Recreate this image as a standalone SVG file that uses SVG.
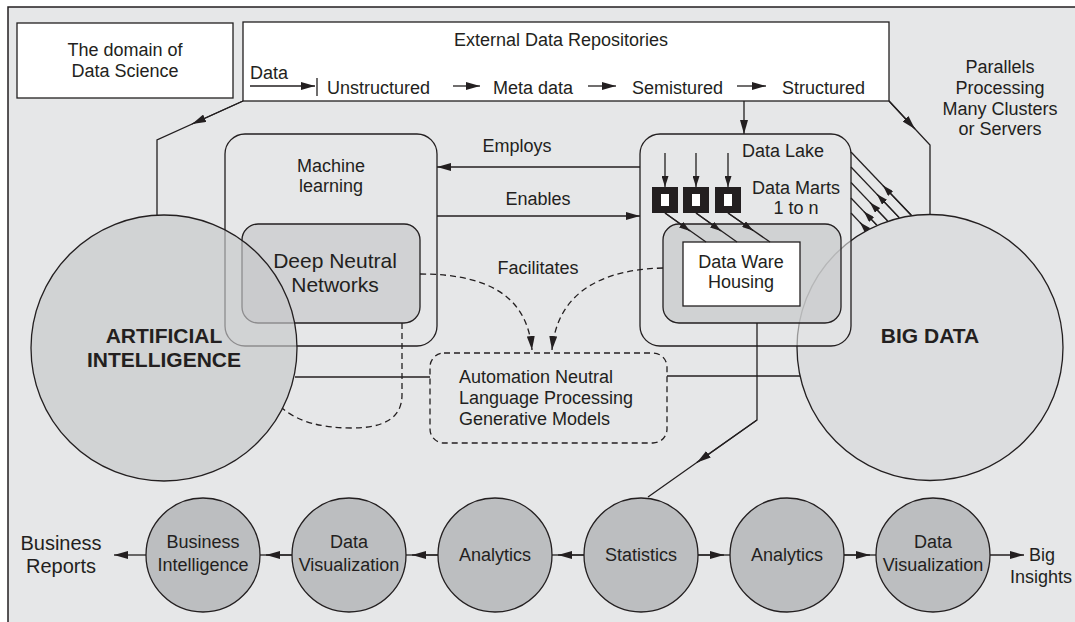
<svg xmlns="http://www.w3.org/2000/svg" width="1075" height="622" viewBox="0 0 1075 622">
  <style>
    text { font-family: "Liberation Sans", Arial, Helvetica, sans-serif; fill: #231f20; font-size: 18px; }
    .c { text-anchor: middle; }
    .big { font-weight: bold; font-size: 21px; }
    .dnn { font-size: 21px; }
    .br { font-size: 20px; }
    .ln { fill: none; stroke: #231f20; stroke-width: 1.3; }
    .dash { stroke-dasharray: 6 4; }
    .box { fill: #ffffff; stroke: #231f20; stroke-width: 1.3; }
    .step { fill: #bcbec0; stroke: #231f20; stroke-width: 1.3; }
  </style>
  <defs>
    <marker id="arr" markerUnits="userSpaceOnUse" markerWidth="14" markerHeight="8" refX="14" refY="4" orient="auto">
      <path d="M0,0 L14,4 L0,8 Z" fill="#231f20"/>
    </marker>
    <marker id="arrS" markerUnits="userSpaceOnUse" markerWidth="11" markerHeight="7" refX="11" refY="3.5" orient="auto">
      <path d="M0,0 L11,3.5 L0,7 Z" fill="#231f20"/>
    </marker>
  </defs>

  <!-- page and frame -->
  <rect x="0" y="0" width="1075" height="622" fill="#ffffff"/>
  <rect id="frame" x="8" y="7" width="1090" height="640" fill="#e6e7e8" stroke="#231f20" stroke-width="1.5"/>

  <!-- Big Data sphere (sits under the data lake panel) -->
  <g id="big-data">
    <circle cx="930" cy="347.5" r="133" fill="#dcdddf" stroke="#231f20" stroke-width="1.3"/>
    <text class="c big" x="930" y="343">BIG DATA</text>
  </g>

  <g id="domain">
    <rect class="box" x="17" y="23" width="216" height="75"/>
    <text class="c" x="125" y="56">The domain of</text>
    <text class="c" x="125" y="77">Data Science</text>
  </g>

  <g id="external-data">
    <rect class="box" x="243" y="22" width="646" height="79"/>
    <text class="c" x="561" y="46">External Data Repositories</text>
    <text x="250" y="79">Data</text>
    <text x="327" y="94">Unstructured</text>
    <text x="493" y="94">Meta data</text>
    <text x="632" y="94">Semistured</text>
    <text x="782" y="94">Structured</text>
    <path class="ln" d="M250,86 L315,86" marker-end="url(#arr)"/>
    <path class="ln" d="M317,78 L317,96"/>
    <path class="ln" d="M453,86 L480,86" marker-end="url(#arr)"/>
    <path class="ln" d="M588,86 L616,86" marker-end="url(#arr)"/>
    <path class="ln" d="M737,86 L766,86" marker-end="url(#arr)"/>
  </g>

  <g id="parallels-label">
    <text class="c" x="1000" y="73">Parallels</text>
    <text class="c" x="1000" y="94">Processing</text>
    <text class="c" x="1000" y="115">Many Clusters</text>
    <text class="c" x="1000" y="135">or Servers</text>
  </g>

  <g id="machine-learning">
    <rect x="225" y="134" width="212" height="212" rx="20" fill="#e6e7e8" stroke="#231f20" stroke-width="1.3"/>
    <text class="c" x="331" y="172">Machine</text>
    <text class="c" x="331" y="192">learning</text>
  </g>

  <g id="deep-networks">
    <rect x="242" y="224" width="178" height="99" rx="16" fill="#d1d2d4" stroke="#231f20" stroke-width="1.3"/>
    <text class="c dnn" x="335" y="268">Deep Neutral</text>
    <text class="c dnn" x="335" y="292">Networks</text>
  </g>

  <g id="data-lake">
    <rect x="640" y="134" width="211" height="212" rx="20" fill="#e6e7e8" fill-opacity="0.6" stroke="#231f20" stroke-width="1.3"/>
    <text class="c" x="783" y="157">Data Lake</text>
    <text class="c" x="796" y="194">Data Marts</text>
    <text class="c" x="796" y="214">1 to n</text>
    <rect x="663" y="224" width="178" height="99" rx="16" fill="#c5c6c8" fill-opacity="0.65" stroke="#231f20" stroke-width="1.3"/>
    <g id="data-marts" fill="#231f20">
      <rect x="652" y="187" width="26" height="26"/>
      <rect x="683" y="187" width="26" height="26"/>
      <rect x="715" y="187" width="26" height="26"/>
      <rect x="661" y="194" width="8" height="12" fill="#ffffff"/>
      <rect x="692" y="194" width="8" height="12" fill="#ffffff"/>
      <rect x="724" y="194" width="8" height="12" fill="#ffffff"/>
    </g>
  </g>

  <g id="data-warehouse">
    <rect class="box" x="683" y="242" width="117" height="64"/>
    <text class="c" x="741" y="268">Data Ware</text>
    <text class="c" x="741" y="288">Housing</text>
  </g>

  <!-- AI sphere is translucent so the panels behind it show through faintly -->
  <g id="artificial-intelligence">
    <circle cx="164" cy="348" r="133" fill="#c6c7c9" fill-opacity="0.65" stroke="#231f20" stroke-width="1.3"/>
    <text class="c big" x="164" y="343">ARTIFICIAL</text>
    <text class="c big" x="164" y="367">INTELLIGENCE</text>
  </g>

  <g id="automation">
    <rect class="ln dash" x="430" y="353" width="237" height="90" rx="14"/>
    <text x="459" y="383">Automation Neutral</text>
    <text x="459" y="404">Language Processing</text>
    <text x="459" y="425">Generative Models</text>
  </g>

  <!-- analysis chain -->
  <g id="business-intelligence">
    <circle class="step" cx="203" cy="555" r="57"/>
    <text class="c" x="203" y="548">Business</text>
    <text class="c" x="203" y="571">Intelligence</text>
  </g>
  <g id="data-visualization-1">
    <circle class="step" cx="349" cy="555" r="57"/>
    <text class="c" x="349" y="548">Data</text>
    <text class="c" x="349" y="571">Visualization</text>
  </g>
  <g id="analytics-1">
    <circle class="step" cx="495" cy="555" r="57"/>
    <text class="c" x="495" y="561">Analytics</text>
  </g>
  <g id="statistics">
    <circle class="step" cx="641" cy="555" r="57"/>
    <text class="c" x="641" y="561">Statistics</text>
  </g>
  <g id="analytics-2">
    <circle class="step" cx="787" cy="555" r="57"/>
    <text class="c" x="787" y="561">Analytics</text>
  </g>
  <g id="data-visualization-2">
    <circle class="step" cx="933" cy="555" r="57"/>
    <text class="c" x="933" y="548">Data</text>
    <text class="c" x="933" y="571">Visualization</text>
  </g>
  <g id="business-reports">
    <text class="c br" x="61" y="550">Business</text>
    <text class="c br" x="61" y="573">Reports</text>
  </g>
  <g id="big-insights">
    <text class="c" x="1042" y="561">Big</text>
    <text class="c" x="1041" y="583">Insights</text>
  </g>

  <g id="connectors">
    <!-- repositories to AI and Big Data -->
    <path class="ln" d="M243,101 L157,140 L157,215"/>
    <path class="ln" d="M243,101 L192,124" marker-end="url(#arr)"/>
    <path class="ln" d="M889,101 L930,145 L930,214.5"/>
    <path class="ln" d="M889,101 L915,129" marker-end="url(#arr)"/>
    <path class="ln" d="M744,101 L744,134" marker-end="url(#arr)"/>

    <!-- machine learning and data lake -->
    <path class="ln" d="M640,167 L437,167" marker-end="url(#arr)"/>
    <text class="c" x="517" y="152">Employs</text>
    <path class="ln" d="M437,216 L640,216" marker-end="url(#arr)"/>
    <text class="c" x="538" y="205">Enables</text>
    <text class="c" x="538" y="274">Facilitates</text>

    <!-- feeds into data marts and warehouse -->
    <path class="ln" d="M665,153 L665,187" marker-end="url(#arrS)"/>
    <path class="ln" d="M696,153 L696,187" marker-end="url(#arrS)"/>
    <path class="ln" d="M728,153 L728,187" marker-end="url(#arrS)"/>
    <path class="ln" d="M665,213 L706,242"/>
    <path class="ln" d="M665,213 L690,231" marker-end="url(#arrS)"/>
    <path class="ln" d="M696,213 L737,242"/>
    <path class="ln" d="M696,213 L721,231" marker-end="url(#arrS)"/>
    <path class="ln" d="M728,213 L770,242"/>
    <path class="ln" d="M728,213 L753,230.5" marker-end="url(#arrS)"/>

    <!-- parallel processing links -->
    <path class="ln" d="M851,152 L911.3,215.3"/>
    <path class="ln" d="M911.3,215.3 L883,185.6" marker-end="url(#arrS)"/>
    <path class="ln" d="M851,167 L899.2,217.6"/>
    <path class="ln" d="M899.2,217.6 L877,194.3" marker-end="url(#arrS)"/>
    <path class="ln" d="M851,182.5 L887.6,220.9"/>
    <path class="ln" d="M887.6,220.9 L870,202.5" marker-end="url(#arrS)"/>
    <path class="ln" d="M851,198 L876.8,225.1"/>
    <path class="ln" d="M876.8,225.1 L864,211.6" marker-end="url(#arrS)"/>
    <path class="ln" d="M851,213 L867,229.9"/>
    <path class="ln" d="M867,229.9 L860,222.5" marker-end="url(#arrS)"/>

    <!-- facilitation (dashed) -->
    <path class="ln dash" d="M420,274 C500,274 528,305 532,350" marker-end="url(#arr)"/>
    <path class="ln dash" d="M663,268 C585,270 556,305 552,350" marker-end="url(#arr)"/>
    <path class="ln dash" d="M402,323 L402,395 Q402,428 352,428 Q305,428 282,408"/>

    <!-- spheres to automation -->
    <path class="ln" d="M295,377 L430,377"/>
    <path class="ln" d="M667,376 L800,376"/>

    <!-- warehouse to statistics -->
    <path class="ln" d="M757,323 L757,420 L648,497"/>
    <path class="ln" d="M757,420 L697,462.4" marker-end="url(#arr)"/>

    <!-- analysis chain links -->
    <path class="ln" d="M146,555 L114,555" marker-end="url(#arr)"/>
    <path class="ln" d="M292,555 L260,555"/>
    <path class="ln" d="M292,555 L266,555" marker-end="url(#arr)"/>
    <path class="ln" d="M438,555 L406,555"/>
    <path class="ln" d="M438,555 L412,555" marker-end="url(#arr)"/>
    <path class="ln" d="M584,555 L552,555"/>
    <path class="ln" d="M584,555 L558,555" marker-end="url(#arr)"/>
    <path class="ln" d="M698,555 L730,555"/>
    <path class="ln" d="M698,555 L724,555" marker-end="url(#arr)"/>
    <path class="ln" d="M844,555 L876,555"/>
    <path class="ln" d="M844,555 L870,555" marker-end="url(#arr)"/>
    <path class="ln" d="M990,555 L1024,555" marker-end="url(#arr)"/>
  </g>
</svg>
